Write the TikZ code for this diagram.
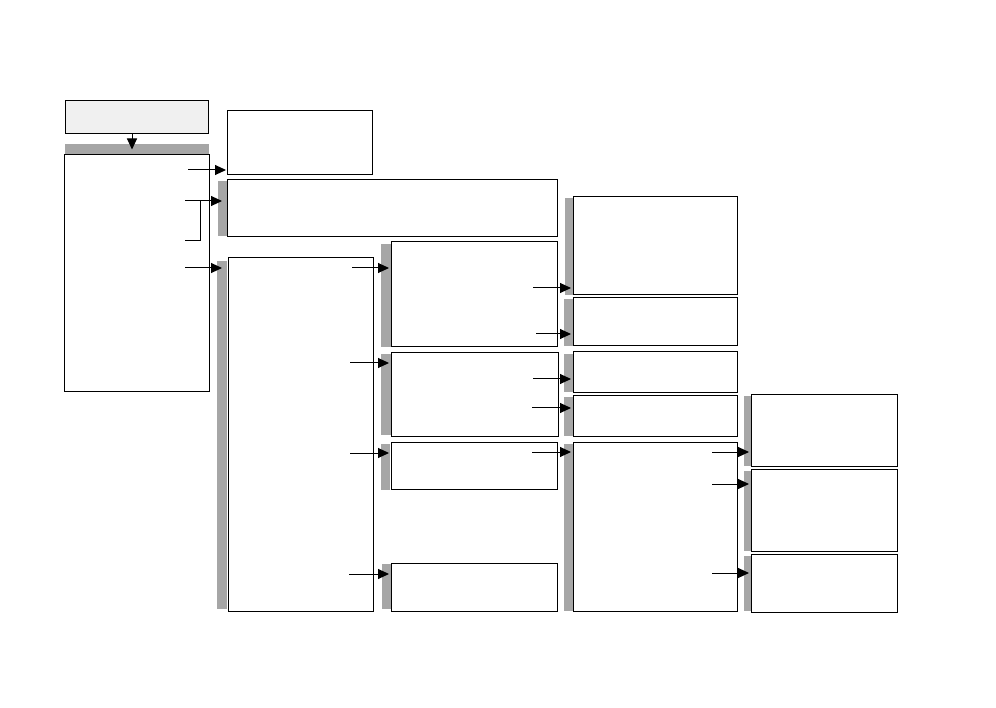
\documentclass[tikz,border=0pt]{standalone}
\usetikzlibrary{arrows.meta}
\definecolor{barg}{HTML}{A6A6A6}
\definecolor{topg}{HTML}{F0F0F0}
\tikzset{
  box/.style={draw=black, line width=1pt, fill=white, inner sep=0pt, outer sep=0pt, anchor=north west},
  bar/.style={fill=barg, draw=none, inner sep=0pt, outer sep=0pt, anchor=north west},
  arr/.style={line width=1pt, -{Triangle[length=11pt,width=10pt]}, shorten >=2pt},
  link/.style={line width=1pt},
}
\newcommand{\mybox}[6]{\node[#1, minimum width=#4-#2, minimum height=#5-#3] (#6) at (#2,#3) {};}
\begin{document}
\begin{tikzpicture}[x=1pt,y=-1pt]
\useasboundingbox (0,0) rectangle (996,708);
% boxes
\mybox{box,fill=topg}{65}{101}{208}{134}{A}
\mybox{bar}{65}{144}{209}{155}{Bbar}
\mybox{box}{64}{155}{209}{392}{B}
\mybox{box}{227}{111}{372}{175}{C}
\mybox{bar}{218}{181}{227}{236}{Dbar}
\mybox{box}{227}{180}{557}{237}{D}
\mybox{bar}{217}{261}{227}{609}{Ebar}
\mybox{box}{228}{258}{373}{611}{E}
\mybox{bar}{381}{244}{391}{347}{Fbar}
\mybox{box}{391}{242}{557}{347}{F}
\mybox{bar}{565}{198}{573}{295}{Gbar}
\mybox{box}{573}{197}{737}{295}{G}
\mybox{bar}{564}{299}{573}{346}{Hbar}
\mybox{box}{573}{298}{737}{346}{H}
\mybox{bar}{381}{354}{391}{435}{Ibar}
\mybox{box}{391}{353}{558}{436}{I}
\mybox{bar}{564}{354}{573}{392}{Jbar}
\mybox{box}{573}{352}{737}{393}{J}
\mybox{bar}{564}{397}{573}{436}{Kbar}
\mybox{box}{573}{396}{737}{436}{K}
\mybox{bar}{381}{444}{390}{490}{Lbar}
\mybox{box}{391}{442}{557}{489}{L}
\mybox{bar}{564}{444}{573}{611}{Mbar}
\mybox{box}{573}{442}{737}{611}{M}
\mybox{bar}{744}{396}{751}{466}{Nbar}
\mybox{box}{751}{395}{897}{466}{N}
\mybox{bar}{744}{471}{751}{551}{Obar}
\mybox{box}{751}{469}{897}{551}{O}
\mybox{bar}{744}{556}{751}{611}{Pbar}
\mybox{box}{751}{554}{897}{612}{P}
\mybox{bar}{382}{564}{391}{609}{Qbar}
\mybox{box}{391}{563}{557}{611}{Q}
% arrow start points
\coordinate (sA) at (132,134);
\coordinate (sC) at (188,170);
\coordinate (sD1) at (185,201);
\coordinate (sD2) at (185,241);
\coordinate (jD) at (200,201);
\coordinate (sE) at (185,268);
\coordinate (sF) at (352,268);
\coordinate (sI) at (350,363);
\coordinate (sL) at (350,453);
\coordinate (sQ) at (349,574);
\coordinate (sG) at (533,288);
\coordinate (sH) at (536,334);
\coordinate (sJ) at (533,379);
\coordinate (sK) at (532,408);
\coordinate (sM) at (532,452);
\coordinate (sN) at (712,452);
\coordinate (sO) at (712,484);
\coordinate (sP) at (712,573);
% connectors
\draw[arr, shorten >=0pt] (sA) -- (sA |- Bbar.center);
\draw[arr, shorten >=1pt] (sC) -- (sC -| C.west);
\draw[link] (sD2) -| (jD) -- (sD1);
\draw[arr, shorten >=5pt] (jD) -- (jD -| D.west);
\draw[arr, shorten >=6pt] (sE) -- (sE -| E.west);
\foreach \s/\t in {sF/F,sI/I,sL/L,sQ/Q,sG/G,sH/H,sJ/J,sK/K,sM/M,sN/N,sO/O,sP/P}
  \draw[arr] (\s) -- (\s -| \t.west);
\end{tikzpicture}
\end{document}
